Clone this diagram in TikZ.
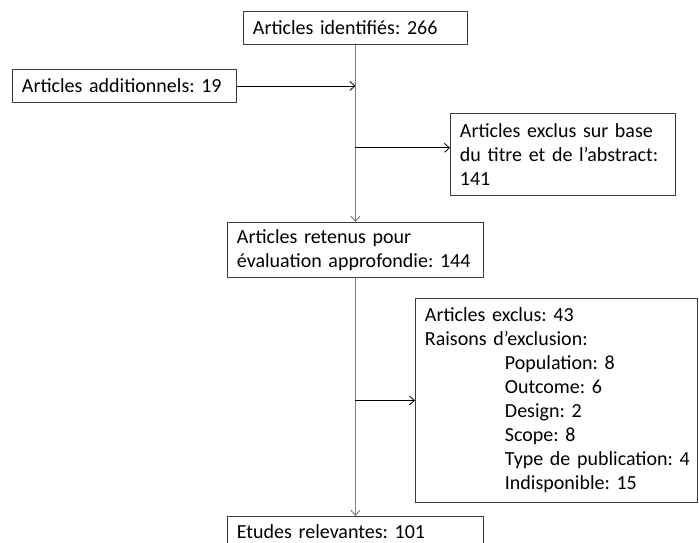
\documentclass[tikz,border=0pt]{standalone}
\usepackage{fontspec}
\setmainfont[WordSpace=0.6]{Carlito}
\usepackage{xcolor}
\definecolor{boxline}{RGB}{60,60,60}
\definecolor{flowline}{RGB}{128,128,128}
\definecolor{ink}{RGB}{0,0,0}
\usepackage{tikz}
\usetikzlibrary{arrows.meta,positioning,calc}
\frenchspacing
\tikzset{
  %% Boxes of the flow chart
  flowbox/.style={
    draw=boxline, line width=0.9pt,
    anchor=north west, align=left,
    inner xsep=9.5pt, inner ysep=0pt,
    font=\fontsize{20}{24}\selectfont, text=ink,
  },
  %% Main vertical flow
  mainflow/.style={draw=flowline, line width=1pt,
    -{Straight Barb[length=5pt,width=9pt]}},
  %% Side arrows
  sideflow/.style={draw=ink, line width=0.8pt,
    -{Straight Barb[length=5pt,width=9pt]}},
}

\begin{document}
\begin{tikzpicture}[x=1pt,y=-1pt]
\useasboundingbox (0,0) rectangle (699,543);
\node[flowbox,text width=205pt,minimum height=33pt] (ident) at (243,11)
  {Articles identifiés: 266};
\node[flowbox,text width=205pt,minimum height=33pt] (addit) at (12,69)
  {Articles additionnels: 19};
\node[flowbox,text width=206pt,minimum height=82pt] (exclus1) at (450,113)
  {Articles exclus sur base\\du titre et de l’abstract:\\141};
\node[flowbox,text width=237pt,minimum height=55pt] (retenus) at (227,222)
  {Articles retenus pour\\évaluation approfondie: 144};
\node[flowbox,text width=263pt,minimum height=204pt] (exclus2) at (415,298)
  {Articles exclus: 43\\
   Raisons d’exclusion:\\
   \hspace*{80pt}Population: 8\\
   \hspace*{80pt}Outcome: 6\\
   \hspace*{80pt}Design: 2\\
   \hspace*{80pt}Scope: 8\\
   \mbox{\hspace*{80pt}Type de publication: 4}\\
   \hspace*{80pt}Indisponible: 15};
\node[flowbox,text width=237pt,minimum height=30pt] (etudes) at (227,516)
  {Etudes relevantes: 101};

\coordinate (joinA) at (ident.south |- addit.east);
\coordinate (joinB) at ($(exclus1.north west)!0.42!(exclus1.south west)$);

\draw[mainflow] (ident) -- (retenus);
\draw[mainflow] (retenus) -- (etudes);
\draw[sideflow] (addit.east) -- (joinA);
\draw[sideflow] (ident.south |- joinB) -- (joinB);
\draw[sideflow] (ident.south |- exclus2.west) -- (exclus2.west);
\end{tikzpicture}
\end{document}
